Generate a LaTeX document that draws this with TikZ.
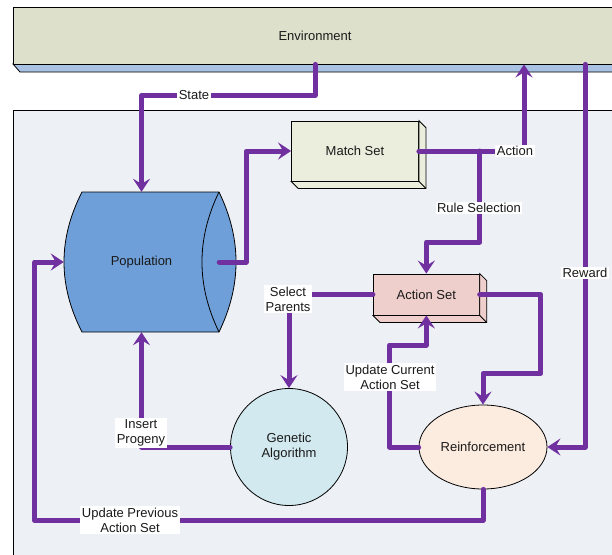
\documentclass[tikz,border=0pt]{standalone}
\usepackage{fontspec}
\setmainfont{Liberation Sans}
\usetikzlibrary{arrows.meta,shapes.geometric}

\definecolor{flowpurple}{HTML}{7030A0}
\definecolor{envfill}{HTML}{DDE1CB}
\definecolor{stripfill}{HTML}{A9C1E2}
\definecolor{panelfill}{HTML}{EDF0F5}
\definecolor{popfill}{HTML}{6F9FD8}
\definecolor{matchfill}{HTML}{EBEEDC}
\definecolor{actfill}{HTML}{EFCFCC}
\definecolor{gafill}{HTML}{D2E9EF}
\definecolor{reinffill}{HTML}{FCEBDF}
\definecolor{textgray}{HTML}{1A1A1A}

\tikzset{
  flow/.style={line width=5pt, draw=flowpurple, line cap=round, line join=round,
    -{Stealth[length=13pt,width=17pt,inset=5pt]}},
  lbl/.style={fill=white, inner sep=1.5pt, align=center, text=textgray},
  shapebox/.style={draw, line width=0.8pt, text=textgray, inner sep=0pt}
}

\begin{document}
\begin{tikzpicture}[x=1pt,y=-1pt,font=\fontsize{13}{15}\selectfont]

        \useasboundingbox (0,0) rectangle (612,554);

        \draw[line width=0.8pt, fill=panelfill] (13,110) rectangle (630,570);

        \draw[line width=0.8pt, fill=stripfill] (13,64) -- (20,72) -- (630,72) -- (630,64) -- cycle;
        \node[shapebox, fill=envfill, minimum width=604, minimum height=57] (env) at (315,35.5) {Environment};

        \draw[line width=0.8pt, fill=popfill] (82,192) -- (219,192)
          .. controls (241.7,238.7) and (241.7,285.3) .. (219,332)
          -- (82,332) .. controls (58,285.3) and (58,238.7) .. (82,192) -- cycle;
        \draw[line width=0.8pt] (219,192) .. controls (196.3,238.7) and (196.3,285.3) .. (219,332);
        \node[text=textgray, minimum width=155, minimum height=140, inner sep=0pt] (pop) at (141.5,262) {Population};

        \node[shapebox, fill=matchfill, minimum width=127, minimum height=60] (match) at (355,151) {Match Set};
        \node[shapebox, fill=actfill, minimum width=106, minimum height=41] (act) at (426.3,294.5) {Action Set};
        \foreach \b/\c in {match/matchfill,act/actfill}{
          \draw[line width=0.8pt, fill=\c] (\b.north east) -- ++(7,7) -- ([shift={(7,7)}]\b.south east)
            -- ([shift={(7,7)}]\b.south west) -- (\b.south west) -- (\b.south east) -- cycle;
          \draw[line width=0.8pt] (\b.south east) -- ++(7,7);
        }

        \node[shapebox, circle, fill=gafill, minimum size=117, align=center] (ga) at (289,447) {Genetic\\Algorithm};
        \node[shapebox, ellipse, fill=reinffill, minimum width=128, minimum height=84] (reinf) at (483,447) {Reinforcement};

        \draw[flow] (env.south) -- ++(0,31) -| (pop.north);
        \draw[flow] (pop.east) -- ++(27,0) |- (match.west);
        \draw[flow] (match.east) -| ([xshift=209]env.south);
        \draw[flow] ([xshift=61]match.east) -- ++(0,91) -| (act.north);
        \draw[flow] ([xshift=270]env.south) |- (reinf.east);
        \draw[flow] (act.west) -| (ga.north);
        \draw[flow] (act.east) -- ++(61,0) -- ++(0,79) -| (reinf.north);
        \draw[flow] (reinf.west) -- ++(-29,0) -- ++(0,-102) -| (act.south);
        \draw[flow] (ga.west) -| (pop.south);
        \draw[flow] (reinf.south) -- ++(0,31) -| ([xshift=-29]pop.west) -- (pop.west);

        \node[lbl] (lstate) at (194,95) {State};
        \node[lbl] (laction) at (515,151) {Action};
        \node[lbl] (lrule) at (479,208) {Rule Selection};
        \node[lbl] (lreward) at (585,273) {Reward};
        \node[lbl] (lselect) at (288,299) {Select\\Parents};
        \node[lbl] (lupdcur) at (390,377) {Update Current\\Action Set};
        \node[lbl] (linsert) at (141,433) {Insert\\Progeny};
        \node[lbl] (lupdprev) at (130,520) {Update Previous\\Action Set};

\end{tikzpicture}
\end{document}
